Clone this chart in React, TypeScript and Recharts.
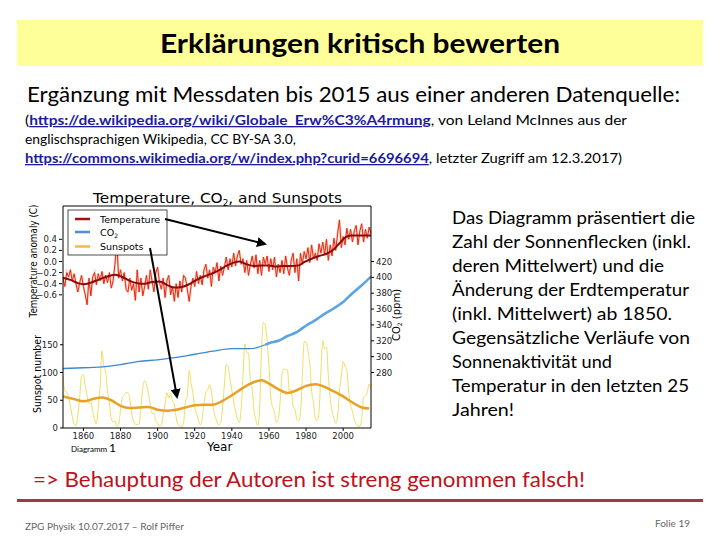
import React from "react";
import { LineChart, Line, XAxis, YAxis } from "recharts";

// ---------- data ----------
const FIRST_YEAR = 1849;

// annual temperature anomaly (C), 1849..2015
const temperatureAnnual = [
  -0.3,
  -0.45, -0.2, -0.28, -0.15, -0.35, -0.22, -0.4, -0.55, -0.38, -0.25,
  -0.45, -0.6, -0.78, -0.3, -0.62, -0.28, -0.2, -0.42, -0.22, -0.35,
  -0.18, -0.4, -0.25, -0.38, -0.2, -0.48, -0.35, -0.05, 0.35, -0.3,
  -0.15, -0.35, -0.2, -0.5, -0.55, -0.3, -0.52, -0.4, -0.7, -0.15,
  -0.55, -0.3, -0.62, -0.45, -0.25, -0.5, -0.15, -0.35, -0.55, -0.2,
  -0.1, -0.38, -0.5, -0.3, -0.65, -0.35, -0.25, -0.6, -0.45, -0.72,
  -0.4, -0.65, -0.35, -0.55, -0.25, -0.3, -0.5, -0.72, -0.45, -0.3,
  -0.45, -0.18, -0.4, -0.25, -0.42, -0.15, -0.05, -0.3, -0.15, -0.45,
  -0.1, -0.2, -0.02, -0.35, -0.08, -0.25, -0.1, 0.08, -0.15, 0.05,
  -0.1, 0.15, -0.08, 0.1, 0.2, -0.05, 0.05, -0.2, 0.02, -0.25,
  -0.05, 0.1, -0.12, 0.12, -0.22, 0.02, -0.25, 0.08, -0.05, 0.1,
  -0.18, 0.05, -0.15, 0.08, -0.28, -0.05, -0.2, 0.02, -0.22, 0.1,
  -0.12, -0.25, 0.02, 0.15, -0.2, 0.05, -0.35, 0.15, -0.05, 0.18,
  0.05, 0.25, -0.02, 0.3, 0.05, 0.15, 0.02, 0.32, 0.15, 0.35,
  0.12, 0.4, 0.02, 0.3, 0.1, 0.42, 0.2, 0.5, 0.75, 0.25,
  0.45, 0.3, 0.6, 0.4, 0.58, 0.35, 0.55, 0.65, 0.3, 0.55,
  0.68, 0.35, 0.58, 0.42, 0.62, 0.5,
];

// annual sunspot number, 1849..2015
const sunspotAnnual = [
  95.8,
  66.5, 64.5, 54.2, 39.0, 20.6, 6.7, 4.3, 22.7, 54.8, 93.8,
  95.8, 77.2, 59.1, 44.0, 47.0, 30.5, 16.3, 7.3, 37.6, 74.0,
  139.0, 111.2, 101.6, 66.2, 44.7, 17.0, 11.3, 12.4, 3.4, 6.0,
  32.3, 54.3, 59.7, 63.7, 63.5, 52.2, 25.4, 13.1, 6.8, 6.3,
  7.1, 35.6, 73.0, 85.1, 78.0, 64.0, 41.8, 26.2, 26.7, 12.1,
  9.5, 2.7, 5.0, 24.4, 42.0, 63.5, 53.8, 62.0, 48.5, 43.9,
  18.6, 5.7, 3.6, 1.4, 9.6, 47.4, 57.1, 103.9, 80.6, 63.6,
  37.6, 26.1, 14.2, 5.8, 16.7, 44.3, 63.9, 69.0, 77.8, 64.9,
  35.7, 21.2, 11.1, 5.7, 8.7, 36.1, 79.7, 114.4, 109.6, 88.8,
  67.8, 47.5, 30.6, 16.3, 9.6, 33.2, 92.6, 151.6, 136.3, 134.7,
  83.9, 69.4, 31.5, 13.9, 4.4, 38.0, 141.7, 190.2, 184.8, 159.0,
  112.3, 53.9, 37.6, 27.9, 10.2, 15.1, 47.0, 93.8, 105.9, 105.5,
  104.5, 66.6, 68.9, 38.0, 34.5, 15.5, 12.6, 27.5, 92.5, 155.4,
  154.6, 140.4, 115.9, 66.6, 45.9, 17.9, 13.4, 29.4, 100.2, 157.6,
  142.6, 145.7, 94.3, 54.6, 29.9, 17.5, 8.6, 21.5, 64.3, 93.3,
  119.6, 111.0, 104.0, 63.7, 40.4, 29.8, 15.2, 7.5, 2.9, 3.1,
  16.5, 55.7, 57.6, 64.7, 79.3, 69.7,
];

const tempSmoothYears = [
  1849, 1853, 1857, 1860, 1864, 1868, 1872, 1877, 1881, 1885, 1889, 1893,
  1897, 1901, 1905, 1909, 1913, 1917, 1921, 1925, 1929, 1933, 1937, 1941,
  1944, 1948, 1952, 1956, 1960, 1964, 1968, 1972, 1976, 1979, 1983, 1987,
  1991, 1995, 1998, 2001, 2004, 2008, 2011, 2015,
];
const tempSmoothValues = [
  -0.29, -0.33, -0.39, -0.41, -0.38, -0.33, -0.28, -0.24, -0.28, -0.35, -0.39, -0.4,
  -0.37, -0.36, -0.42, -0.47, -0.46, -0.41, -0.33, -0.27, -0.22, -0.16, -0.08, -0.02,
  0.0, -0.05, -0.08, -0.07, -0.07, -0.09, -0.08, -0.08, -0.07, -0.01, 0.05, 0.1,
  0.14, 0.22, 0.33, 0.43, 0.47, 0.47, 0.47, 0.47,
];

const sunSmoothYears = [
  1849, 1855, 1860, 1866, 1870, 1875, 1880, 1885, 1890, 1895, 1900, 1905,
  1910, 1915, 1920, 1925, 1930, 1935, 1940, 1945, 1950, 1956, 1960, 1965,
  1970, 1975, 1980, 1985, 1990, 1995, 2000, 2005, 2010, 2014,
];
const sunSmoothValues = [
  57, 52, 48, 53, 55, 50, 40, 36, 37, 38, 33, 31,
  33, 37, 41, 42, 42, 49, 59, 70, 80, 86, 80, 70,
  63, 68, 76, 79, 74, 66, 57, 46, 37, 35,
];

const co2IceYears = [1849, 1860, 1870, 1880, 1890, 1900, 1910, 1920, 1930, 1940, 1950, 1958];
const co2IceValues = [285, 286, 287, 290, 294, 296, 299, 303, 307, 310, 310, 315];
const co2MaunaYears = [1958, 1960, 1965, 1970, 1975, 1980, 1985, 1990, 1995, 2000, 2005, 2010, 2015];
const co2MaunaValues = [315, 317, 320, 326, 331, 339, 346, 354, 361, 369, 380, 390, 401];

const xTicks = [1860, 1880, 1900, 1920, 1940, 1960, 1980, 2000];
const tempTicks = [-0.6, -0.4, -0.2, 0.0, 0.2, 0.4];
const sunTicks = [0, 50, 100, 150];
const co2Ticks = [280, 300, 320, 340, 360, 380, 400, 420];

const rightParagraph = [
  "Das Diagramm präsentiert die",
  "Zahl der Sonnenflecken (inkl.",
  "deren Mittelwert) und die",
  "Änderung der Erdtemperatur",
  "(inkl. Mittelwert) ab 1850.",
  "Gegensätzliche Verläufe von",
  "Sonnenaktivität und",
  "Temperatur in den letzten 25",
  "Jahren!",
];
const rightParagraphEnds = [695, 691, 664, 689, 672, 690, 612, 689, 514];

// ---------- derived tables ----------
const annualRows = temperatureAnnual.map((t, i) => ({
  year: FIRST_YEAR + i,
  temp: t,
  sun: sunspotAnnual[i],
}));
const tempSmoothRows = tempSmoothYears.map((y, i) => ({ year: y, tempSmooth: tempSmoothValues[i] }));
const sunSmoothRows = sunSmoothYears.map((y, i) => ({ year: y, sunSmooth: sunSmoothValues[i] }));
const co2IceRows = co2IceYears.map((y, i) => ({ year: y, co2: co2IceValues[i] }));
const co2MaunaRows = co2MaunaYears.map((y, i) => ({ year: y, co2: co2MaunaValues[i] }));

const MPL = "DejaVu Sans, sans-serif";
const SLIDE = "Lato, Carlito, sans-serif";
const tickStyle = { fontSize: 8.5, fill: "#222", fontFamily: MPL };
const fmtTemp = (v: number) => v.toFixed(1).replace("-", "\u2212");

function Chart() {
  return (
    <LineChart
      width={440}
      height={470}
      margin={{ top: 206, right: 29, bottom: 12, left: 22 }}
    >
      <XAxis
        dataKey="year"
        type="number"
        domain={[1849, 2015]}
        ticks={xTicks}
        interval={0}
        tick={tickStyle}
        tickSize={3}
        tickMargin={2}
        height={30}
        axisLine={{ stroke: "#000" }}
        tickLine={{ stroke: "#000" }}
        allowDataOverflow
      />
      <XAxis
        xAxisId="top"
        orientation="top"
        dataKey="year"
        type="number"
        domain={[1849, 2015]}
        ticks={xTicks}
        interval={0}
        tick={false}
        tickSize={3}
        mirror
        height={1}
        axisLine={{ stroke: "#000" }}
        tickLine={{ stroke: "#000" }}
      />
      <YAxis
        yAxisId="sun"
        orientation="left"
        width={1}
        domain={[0, 400]}
        ticks={sunTicks}
        interval={0}
        tick={tickStyle}
        tickSize={3}
        tickMargin={2}
        axisLine={{ stroke: "#000" }}
        tickLine={{ stroke: "#000" }}
        allowDataOverflow
      />
      <YAxis
        yAxisId="temp"
        orientation="left"
        width={40}
        domain={[-3, 1]}
        ticks={tempTicks}
        interval={0}
        tickFormatter={fmtTemp}
        tick={tickStyle}
        tickSize={3}
        tickMargin={2}
        axisLine={false}
        tickLine={{ stroke: "#000" }}
        allowDataOverflow
      />
      <YAxis
        yAxisId="co2"
        orientation="right"
        width={40}
        domain={[210, 490]}
        ticks={co2Ticks}
        interval={0}
        tick={tickStyle}
        tickSize={3}
        tickMargin={2}
        axisLine={{ stroke: "#000" }}
        tickLine={{ stroke: "#000" }}
        allowDataOverflow
      />

      {/* sunspots */}
      <Line
        data={annualRows}
        dataKey="sun"
        yAxisId="sun"
        type="monotone"
        stroke="#f0de62"
        strokeWidth={1}
        dot={false}
        isAnimationActive={false}
      />
      <Line
        data={sunSmoothRows}
        dataKey="sunSmooth"
        yAxisId="sun"
        type="monotone"
        stroke="#e8a126"
        strokeWidth={2.5}
        dot={false}
        isAnimationActive={false}
      />

      {/* CO2 */}
      <Line
        data={co2IceRows}
        dataKey="co2"
        yAxisId="co2"
        type="monotone"
        stroke="#3f88cf"
        strokeWidth={1.3}
        dot={false}
        isAnimationActive={false}
      />
      <Line
        data={co2MaunaRows}
        dataKey="co2"
        yAxisId="co2"
        type="monotone"
        stroke="#5aa4e4"
        strokeWidth={2.6}
        dot={false}
        isAnimationActive={false}
      />

      {/* temperature */}
      <Line
        data={annualRows}
        dataKey="temp"
        yAxisId="temp"
        type="linear"
        stroke="#f7b4a4"
        strokeWidth={2.5}
        strokeOpacity={0.6}
        dot={false}
        isAnimationActive={false}
      />
      <Line
        data={annualRows}
        dataKey="temp"
        yAxisId="temp"
        type="linear"
        stroke="#e62a10"
        strokeWidth={1}
        dot={false}
        isAnimationActive={false}
      />
      <Line
        data={tempSmoothRows}
        dataKey="tempSmooth"
        yAxisId="temp"
        type="monotone"
        stroke="#8e0a0a"
        strokeWidth={2}
        dot={false}
        isAnimationActive={false}
      />
    </LineChart>
  );
}

function Overlay() {
  return (
    <svg
      width={720}
      height={540}
      style={{ position: "absolute", left: 0, top: 0, pointerEvents: "none" }}
    >
      <defs>
        <marker id="ah" viewBox="0 0 10 10" refX="8" refY="5" markerWidth="5" markerHeight="5" orient="auto">
          <path d="M0,0 L10,5 L0,10 z" fill="#000" />
        </marker>
      </defs>

      {/* slide title */}
      <rect x={17} y={20} width={686} height={46} fill="#ffff99" />
      <text x={160} y={53} fontFamily={SLIDE} fontWeight={700} fontSize={26} fill="#000" textLength={400} lengthAdjust="spacingAndGlyphs">
        Erklärungen kritisch bewerten
      </text>

      <text x={27} y={102} fontFamily={SLIDE} fontSize={21} fill="#000" textLength={653} lengthAdjust="spacingAndGlyphs">
        Ergänzung mit Messdaten bis 2015 aus einer anderen Datenquelle:
      </text>

      <text x={25} y={125} fontFamily={SLIDE} fontSize={13} fill="#000" textLength={602} lengthAdjust="spacingAndGlyphs">
        (<tspan fill="#1b1b9e" fontWeight={700} textDecoration="underline">https://de.wikipedia.org/wiki/Globale_Erw%C3%A4rmung</tspan>, von Leland McInnes aus der
      </text>
      <text x={25} y={144} fontFamily={SLIDE} fontSize={13} fill="#000" textLength={271} lengthAdjust="spacingAndGlyphs">
        englischsprachigen Wikipedia, CC BY-SA 3.0,
      </text>
      <text x={25} y={163} fontFamily={SLIDE} fontSize={13} fill="#000" textLength={597} lengthAdjust="spacingAndGlyphs">
        <tspan fill="#1b1b9e" fontWeight={700} textDecoration="underline">https://commons.wikimedia.org/w/index.php?curid=6696694</tspan>, letzter Zugriff am 12.3.2017)
      </text>

      {/* chart title */}
      <text x={93} y={203} fontFamily={MPL} fontSize={14} fill="#000" textLength={249} lengthAdjust="spacingAndGlyphs">
        Temperature, CO<tspan fontSize={8} dy={3}>2</tspan><tspan dy={-3}>, and Sunspots</tspan>
      </text>

      {/* axis labels */}
      <text transform="translate(37,261) rotate(-90)" textAnchor="middle" fontFamily={MPL} fontSize={10.5} fill="#000" textLength={113} lengthAdjust="spacingAndGlyphs">
        Temperature anomaly (C)
      </text>
      <text transform="translate(41,374) rotate(-90)" textAnchor="middle" fontFamily={MPL} fontSize={10.5} fill="#000" textLength={78} lengthAdjust="spacingAndGlyphs">
        Sunspot number
      </text>
      <text transform="translate(400,315) rotate(-90)" textAnchor="middle" fontFamily={MPL} fontSize={10} fill="#000">
        CO<tspan fontSize={6} dy={2}>2</tspan><tspan dy={-2}> (ppm)</tspan>
      </text>
      <text x={207} y={451} fontFamily={MPL} fontSize={12} fill="#000">Year</text>
      <text x={71} y={452} fontFamily={SLIDE} fill="#000">
        <tspan fontSize={8}>Diagramm </tspan><tspan fontSize={12}>1</tspan>
      </text>

      {/* legend */}
      <rect x={68} y={210} width={99} height={45} fill="#fff" stroke="#222" strokeWidth={0.8} />
      <line x1={75} x2={90} y1={219} y2={219} stroke="#a50f0f" strokeWidth={2.5} />
      <line x1={75} x2={90} y1={232} y2={232} stroke="#4f8fd6" strokeWidth={2.5} />
      <line x1={75} x2={90} y1={246.5} y2={246.5} stroke="#f2b84b" strokeWidth={2.5} />
      <text x={100} y={222.5} fontFamily={MPL} fontSize={9.5} fill="#000">Temperature</text>
      <text x={100} y={235.5} fontFamily={MPL} fontSize={9.5} fill="#000">
        CO<tspan fontSize={6} dy={2}>2</tspan>
      </text>
      <text x={100} y={250} fontFamily={MPL} fontSize={9.5} fill="#000">Sunspots</text>

      {/* arrows */}
      <line x1={165} y1={219} x2={265} y2={244} stroke="#000" strokeWidth={2} markerEnd="url(#ah)" />
      <line x1={150} y1={248} x2={177} y2={397} stroke="#000" strokeWidth={2} markerEnd="url(#ah)" />

      {/* right paragraph */}
      {rightParagraph.map((line, i) => (
        <text
          key={i}
          x={452}
          y={224 + i * 24}
          fontFamily={SLIDE}
          fontSize={18}
          fill="#000"
          textLength={rightParagraphEnds[i] - 452}
          lengthAdjust="spacingAndGlyphs"
        >
          {line}
        </text>
      ))}

      {/* conclusion */}
      <text x={33} y={487} fontFamily={SLIDE} fontSize={22} fill="#c0101a" textLength={552} lengthAdjust="spacingAndGlyphs">
        =&gt; Behauptung der Autoren ist streng genommen falsch!
      </text>
      <rect x={17} y={499} width={686} height={3} fill="#a8383a" />

      {/* footer */}
      <text x={25} y={530} fontFamily={SLIDE} fontSize={9} fill="#666" textLength={159} lengthAdjust="spacingAndGlyphs">
        ZPG Physik 10.07.2017 – Rolf Piffer
      </text>
      <text x={655} y={527} fontFamily={SLIDE} fontSize={10} fill="#666" textLength={35} lengthAdjust="spacingAndGlyphs">
        Folie 19
      </text>
    </svg>
  );
}

export default function App() {
  return (
    <div
      style={{
        position: "absolute",
        left: 0,
        top: 0,
        width: 720,
        height: 540,
        background: "#fff",
        overflow: "hidden",
      }}
    >
      <div style={{ position: "absolute", left: 0, top: 0 }}>
        <Chart />
      </div>
      <Overlay />
    </div>
  );
}
